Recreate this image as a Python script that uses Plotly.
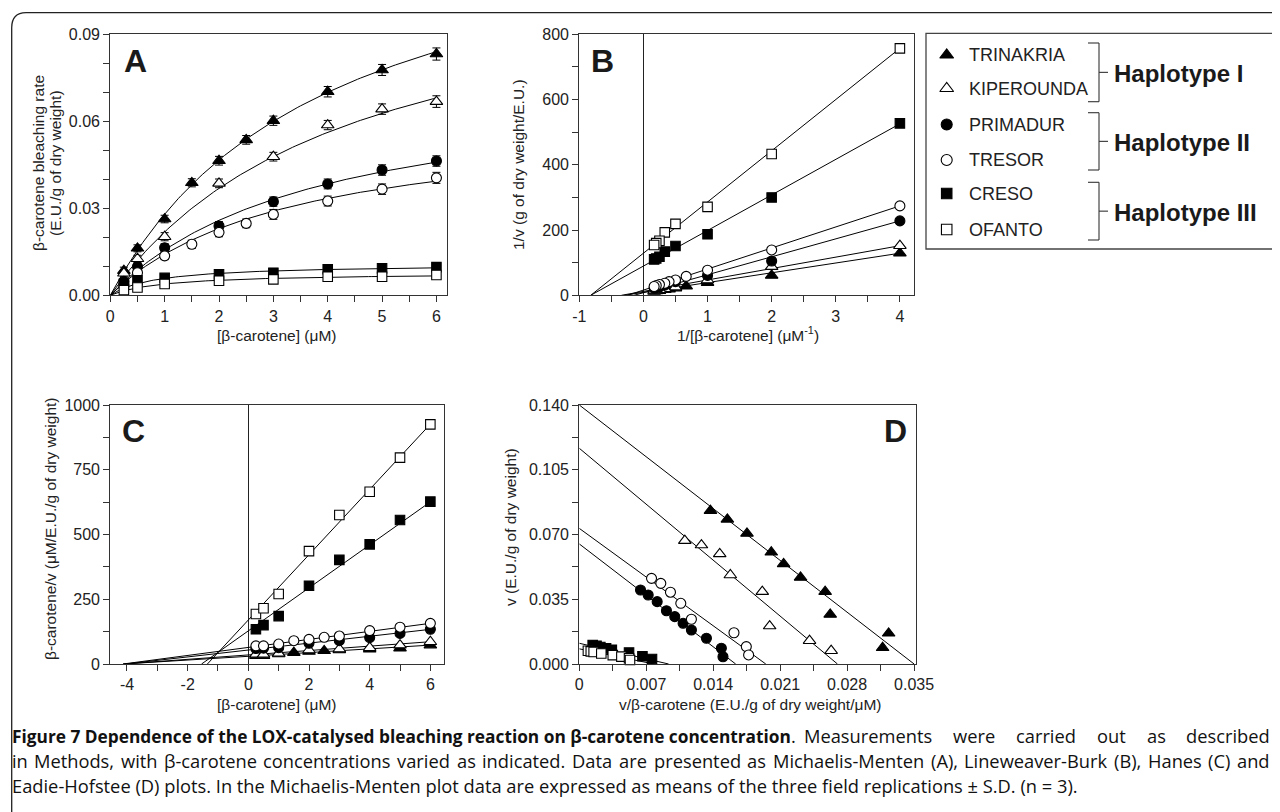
import numpy as np
import plotly.graph_objects as go

# The page body has an 8px default margin; draw the figure so that the
# reference's pixel positions land where they should on screen.
OFF = 8
FW, FH = 1280 - OFF, 812 - OFF
def X(px): return (px - OFF) / FW
def Y(py): return 1 - (py - OFF) / FH

# ---------------- data ----------------
names = ["TRINAKRIA", "KIPEROUNDA", "PRIMADUR", "TRESOR", "CRESO", "OFANTO"]
haplotypes = ["Haplotype I", "Haplotype II", "Haplotype III"]

# Panel A: Michaelis-Menten (substrate uM, rate E.U./g dw, S.D.)
A_S = [
    [0.25, 0.5, 1, 1.5, 2, 2.5, 3, 4, 5, 6],
    [0.25, 0.5, 1, 2, 3, 4, 5, 6],
    [0.25, 0.5, 1, 2, 3, 4, 5, 6],
    [0.25, 0.5, 1, 1.5, 2, 2.5, 3, 4, 5, 6],
    [0.25, 0.5, 1, 2, 3, 4, 5, 6],
    [0.25, 0.5, 1, 2, 3, 4, 5, 6],
]
A_v = [
    [0.0085, 0.0162, 0.0263, 0.0388, 0.0464, 0.0536, 0.0602, 0.0702, 0.0777, 0.0832],
    [0.0076, 0.0126, 0.0202, 0.0386, 0.0478, 0.0587, 0.0642, 0.0668],
    [0.0048, 0.0099, 0.0164, 0.0239, 0.0323, 0.0384, 0.0432, 0.0463],
    [0.0037, 0.0078, 0.0136, 0.0176, 0.0217, 0.0248, 0.0279, 0.0325, 0.0366, 0.0405],
    [0.0040, 0.0052, 0.0060, 0.0072, 0.0078, 0.0090, 0.0093, 0.0097],
    [0.0018, 0.0027, 0.0039, 0.0050, 0.0055, 0.0064, 0.0064, 0.0070],
]
A_sd = [
    [0.0012, 0.0012, 0.0013, 0.0014, 0.0015, 0.0015, 0.0016, 0.0018, 0.0019, 0.0021],
    [0.0010, 0.0012, 0.0014, 0.0015, 0.0015, 0.0016, 0.0018, 0.0020],
    [0.0010, 0.0012, 0.0014, 0.0015, 0.0016, 0.0017, 0.0018, 0.0018],
    [0.0010, 0.0012, 0.0013, 0.0014, 0.0015, 0.0015, 0.0017, 0.0017, 0.0018, 0.0019],
    [0.0008, 0.0008, 0.0008, 0.0008, 0.0009, 0.0009, 0.0009, 0.0009],
    [0.0008, 0.0008, 0.0008, 0.0009, 0.0010, 0.0009, 0.0009, 0.0009],
]
# fitted Michaelis-Menten parameters
A_fit_vmax = [0.140, 0.118, 0.075, 0.061, 0.0108, 0.0078]
A_fit_km = [4.0, 4.4, 3.8, 3.3, 0.85, 1.0]

# Panel B: Lineweaver-Burk
B_x = [
    [4, 2, 1, 0.667, 0.5, 0.4, 0.333, 0.25, 0.2, 0.167],
    [4, 2, 1, 0.5, 0.333, 0.25, 0.2, 0.167],
    [4, 2, 1, 0.5, 0.333, 0.25, 0.2, 0.167],
    [4, 2, 1, 0.667, 0.5, 0.4, 0.333, 0.25, 0.2, 0.167],
    [4, 2, 1, 0.5, 0.333, 0.25, 0.2, 0.167],
    [4, 2, 1, 0.5, 0.333, 0.25, 0.2, 0.167],
]
B_y = [
    [129, 61, 39, 28, 22, 19, 17, 14, 13, 12],
    [152, 88, 47, 25, 20, 17, 16, 15],
    [228, 105, 61, 42, 31, 26, 23, 22],
    [274, 139, 77, 58, 47, 42, 37, 33, 30, 27],
    [527, 300, 187, 151, 134, 118, 113, 110],
    [757, 433, 271, 219, 193, 167, 160, 154],
]
B_fit_intercept = [9, 12, 8, 16, 89.6, 129]
B_fit_slope = [30, 35, 55, 64.5, 109, 157]
B_fit_xmax = 4

# Panel C: Hanes
C_x = [
    [0.25, 0.5, 1, 1.5, 2, 2.5, 3, 4, 5, 6],
    [0.25, 0.5, 1, 2, 3, 4, 5, 6],
    [0.25, 0.5, 1, 2, 3, 4, 5, 6],
    [0.25, 0.5, 1, 1.5, 2, 2.5, 3, 4, 5, 6],
    [0.25, 0.5, 1, 2, 3, 4, 5, 6],
    [0.25, 0.5, 1, 2, 3, 4, 5, 6],
]
C_y = [
    [32, 32, 39, 44, 48, 51, 54, 57, 61, 73],
    [37, 37, 41, 54, 58, 63, 73, 86],
    [60, 61, 63, 80, 90, 102, 118, 134],
    [70, 70, 77, 90, 95, 103, 108, 129, 142, 157],
    [134, 150, 185, 302, 402, 462, 556, 627],
    [193, 215, 270, 436, 575, 665, 797, 925],
]
C_fit_intercept = [29.7, 35, 54, 64, 128, 170]
C_fit_slope = [7.2, 8.5, 13.3, 15.5, 83, 126]
C_fit_xmax = 6

# Panel D: Eadie-Hofstee
D_x = [
    [0.01371, 0.01548, 0.01753, 0.02007, 0.02136, 0.02313, 0.0257, 0.02623, 0.03234, 0.03171],
    [0.01103, 0.01277, 0.01468, 0.01579, 0.01913, 0.0199, 0.02407, 0.02633],
    [0.0064, 0.0072, 0.00814, 0.00911, 0.00998, 0.01085, 0.01172, 0.01329, 0.01485, 0.01502],
    [0.00755, 0.00852, 0.00953, 0.01061, 0.01172, 0.01617, 0.01746, 0.0177],
    [0.0014, 0.0018, 0.0022, 0.0028, 0.0034, 0.0052, 0.0066, 0.0076],
    [0.0009, 0.0012, 0.0015, 0.0023, 0.0035, 0.0044, 0.0052, 0.0053],
]
D_y = [
    [0.0829, 0.0782, 0.0706, 0.0604, 0.0541, 0.0468, 0.0391, 0.0268, 0.0166, 0.0088],
    [0.0667, 0.0643, 0.0595, 0.0481, 0.0391, 0.0205, 0.0126, 0.0072],
    [0.040, 0.0373, 0.0337, 0.0288, 0.0256, 0.022, 0.0184, 0.0139, 0.0085, 0.0039],
    [0.0463, 0.0436, 0.0388, 0.0328, 0.0242, 0.0169, 0.0094, 0.0049],
    [0.0103, 0.0098, 0.0092, 0.0085, 0.0077, 0.0062, 0.0042, 0.0027],
    [0.0072, 0.0068, 0.0065, 0.0057, 0.0048, 0.0040, 0.0031, 0.0022],
]
D_fit_intercept = [0.140, 0.1166, 0.0649, 0.0733, 0.0112, 0.0082]
D_fit_slope = [-4.0, -4.32, -3.97, -3.76, -1.2, -1.05]

A_xticks = [0, 1, 2, 3, 4, 5, 6]
A_yticks = [0.00, 0.03, 0.06, 0.09]
B_xticks = [-1, 0, 1, 2, 3, 4]
B_yticks = [0, 200, 400, 600, 800]
C_xticks = [-4, -2, 0, 2, 4, 6]
C_yticks = [0, 250, 500, 750, 1000]
D_xticks = [0, 0.007, 0.014, 0.021, 0.028, 0.035]
D_yticks = [0.000, 0.035, 0.070, 0.105, 0.140]

caption_bold = "Figure 7 Dependence of the LOX-catalysed bleaching reaction on β-carotene concentration"
caption_line1_rest = ". Measurements were carried out as described"
caption_line2 = ("in Methods, with β-carotene concentrations varied as indicated. Data are presented as "
                 "Michaelis-Menten (A), Lineweaver-Burk (B), Hanes (C) and")
caption_line3 = ("Eadie-Hofstee (D) plots. In the Michaelis-Menten plot data are expressed as means of the "
                 "three field replications ± S.D. (n = 3).")

# ---------------- styles ----------------
symbols = ["triangle-up", "triangle-up", "circle", "circle", "square", "square"]
fills = ["black", "white", "black", "white", "black", "white"]
msizes = [11, 11, 10, 10, 9.5, 9.5]
FONT = "Liberation Sans, Arial, sans-serif"
INK = "#222222"
AXC = "#333333"

fig = go.Figure()

def add_line(xs, ys, ax):
    fig.add_trace(go.Scatter(x=xs, y=ys, mode="lines", xaxis=ax[0], yaxis=ax[1],
                             line=dict(color="black", width=1), showlegend=False,
                             hoverinfo="skip", cliponaxis=True))

def add_pts(xs, ys, i, ax, err=None):
    kw = {}
    if err is not None:
        kw["error_y"] = dict(type="data", array=err, visible=True, color="black",
                             thickness=1, width=4)
    fig.add_trace(go.Scatter(x=xs, y=ys, mode="markers", xaxis=ax[0], yaxis=ax[1],
                             name=names[i], showlegend=False, cliponaxis=False,
                             marker=dict(symbol=symbols[i], size=msizes[i], color=fills[i],
                                         line=dict(color="black", width=1.1)), **kw))

# Panel A
for i in range(6):
    s = np.linspace(0, 6, 121)
    add_line(s, A_fit_vmax[i] * s / (A_fit_km[i] + s), ("x", "y"))
for i in range(6):
    add_pts(A_S[i], A_v[i], i, ("x", "y"), A_sd[i])

# Panel B
for i in range(6):
    x0 = -B_fit_intercept[i] / B_fit_slope[i]
    xs = [x0, B_fit_xmax]
    add_line(xs, [B_fit_intercept[i] + B_fit_slope[i] * x for x in xs], ("x2", "y2"))
for i in range(6):
    add_pts(B_x[i], B_y[i], i, ("x2", "y2"))

# Panel C
for i in range(6):
    x0 = -C_fit_intercept[i] / C_fit_slope[i]
    xs = [x0, C_fit_xmax]
    add_line(xs, [C_fit_intercept[i] + C_fit_slope[i] * x for x in xs], ("x3", "y3"))
for i in range(6):
    add_pts(C_x[i], C_y[i], i, ("x3", "y3"))

# Panel D
for i in range(6):
    x1 = -D_fit_intercept[i] / D_fit_slope[i]
    xs = [0, x1]
    add_line(xs, [D_fit_intercept[i] + D_fit_slope[i] * x for x in xs], ("x4", "y4"))
for i in range(6):
    add_pts(D_x[i], D_y[i], i, ("x4", "y4"))

# Legend key markers on a pixel overlay axis
leg_rows = [55, 88.5, 124.5, 160, 193.5, 229.5]
for i in range(6):
    fig.add_trace(go.Scatter(x=[946.7], y=[leg_rows[i]], mode="markers", xaxis="x5", yaxis="y5",
                             showlegend=False, hoverinfo="skip",
                             marker=dict(symbol=symbols[i], size=msizes[i] + 1, color=fills[i],
                                         line=dict(color="black", width=1.1))))

def axis(domain, rng, tickvals, ticktext, minor_dtick, zeroline=False, anchor=None):
    d = dict(domain=domain, range=rng, showline=True, mirror=True, linecolor=AXC, linewidth=1.2,
             ticks="outside", ticklen=6, tickwidth=1.1, tickcolor=AXC, showgrid=False,
             zeroline=zeroline, zerolinecolor="#222", zerolinewidth=1.1,
             tickmode="array", tickvals=tickvals, ticktext=ticktext, automargin=False,
             tickfont=dict(family=FONT, size=16, color=INK), fixedrange=True,
             minor=dict(dtick=minor_dtick, tick0=0, ticks="outside", ticklen=6, tickwidth=1.1,
                        tickcolor=AXC, showgrid=False))
    if anchor:
        d["anchor"] = anchor
    return d

ydomAB = [Y(295.3), Y(34.3)]
ydomCD = [Y(664), Y(405)]

fig.update_layout(
    width=FW, height=FH, margin=dict(l=0, r=0, t=0, b=0, pad=0, autoexpand=False),
    paper_bgcolor="white", plot_bgcolor="rgba(0,0,0,0)", showlegend=False,
    xaxis=axis([X(110.3), X(447.3)], [0, 6.2], A_xticks, [str(v) for v in A_xticks], 0.5, anchor="y"),
    yaxis=axis(ydomAB, [0, 0.09], A_yticks, ["%.2f" % v for v in A_yticks], 0.01, anchor="x"),
    xaxis2=axis([X(579.3), X(914)], [-1, 4.22], B_xticks, [str(v) for v in B_xticks], 0.5,
                zeroline=True, anchor="y2"),
    yaxis2=axis(ydomAB, [0, 800], B_yticks, [str(v) for v in B_yticks], 100, anchor="x2"),
    xaxis3=axis([X(110.3), X(444)], [-4.55, 6.45], C_xticks, [str(v) for v in C_xticks], 1,
                zeroline=True, anchor="y3"),
    yaxis3=axis(ydomCD, [0, 1000], C_yticks, [str(v) for v in C_yticks], 125, anchor="x3"),
    xaxis4=axis([X(579.3), X(916)], [0, 0.0352], D_xticks,
                ["0"] + ["%.3f" % v for v in D_xticks[1:]], 0.0035, anchor="y4"),
    yaxis4=axis(ydomCD, [0, 0.14], D_yticks, ["%.3f" % v for v in D_yticks], 0.0175, anchor="x4"),
    xaxis5=dict(domain=[0, 1], range=[OFF, OFF + FW], visible=False, fixedrange=True, anchor="y5"),
    yaxis5=dict(domain=[0, 1], range=[OFF + FH, OFF], visible=False, fixedrange=True, anchor="x5"),
)

ann = []
def text(px, py, t, size, xanchor="center", angle=0, bold=False, family=FONT, color=INK):
    ann.append(dict(x=X(px), y=Y(py), xref="paper", yref="paper", text=("<b>%s</b>" % t) if bold else t,
                    showarrow=False, xanchor=xanchor, yanchor="middle", textangle=angle,
                    font=dict(family=family, size=size, color=color)))

# panel letters
for lab, (px, py) in zip("ABCD", [(135, 61), (602.5, 61), (133.5, 431), (895, 430.5)]):
    text(px, py, lab, 32, bold=True, color="#1a1a1a")

# axis titles
TS = 15.5
text(38, 163, "β-carotene bleaching rate", TS, angle=-90)
text(55, 163, "(E.U./g of dry weight)", TS, angle=-90)
text(276, 335, "[β-carotene] (μM)", TS)
text(518, 165, "1/v (g of dry weight/E.U.)", TS, angle=-90)
text(748, 334, "1/[β-carotene] (μM<sup>-1</sup>)", TS)
text(50, 529, "β-carotene/v (μM/E.U./g of dry weight)", TS, angle=-90)
text(276, 704, "[β-carotene] (μM)", TS)
text(510, 527, "v (E.U./g of dry weight)", TS, angle=-90)
text(750, 704, "v/β-carotene (E.U./g of dry weight/μM)", TS)

# legend
for i in range(6):
    text(966.7, leg_rows[i], names[i], 18, xanchor="left")
brackets = [(43, 101.7), (112.7, 170), (182.3, 240)]
shapes = []
def seg(x0, y0, x1, y1, w=1.1, color="#333"):
    shapes.append(dict(type="line", xref="paper", yref="paper", x0=X(x0), y0=Y(y0), x1=X(x1), y1=Y(y1),
                       line=dict(color=color, width=w)))
for (t, b), hl in zip(brackets, haplotypes):
    m = (t + b) / 2
    seg(1088, t, 1099, t)
    seg(1099, t, 1099, b)
    seg(1088, b, 1099, b)
    seg(1099, m, 1108, m)
    text(1112, m + 1.5, hl, 24, xanchor="left", bold=True, color="#1a1a1a")

shapes.append(dict(type="rect", xref="paper", yref="paper", x0=X(926), y0=Y(249), x1=X(1278.5), y1=Y(33.3),
                   line=dict(color="#444", width=1.3)))
# figure frame (rounded top-left corner)
shapes.append(dict(type="path", xref="paper", yref="paper",
                   path="M %f,%f L %f,%f Q %f,%f %f,%f L %f,%f" % (
                       X(1285), Y(12.7), X(26), Y(12.7), X(11.7), Y(12.7), X(11.7), Y(27.7),
                       X(11.7), Y(812)),
                   line=dict(color="#222", width=1.3)))

# caption (lines 1-2 justified to the full width, as in the reference)
CF = "Open Sans, Noto Sans, sans-serif"
CS = 18.3
BS = 17.3
EM = {' ': .26, '.': .266, ',': .245, '(': .297, ')': .297, '-': .322, '=': .572, '±': .572, 'β': .62,
      'a': .556, 'b': .613, 'c': .476, 'd': .613, 'e': .561, 'f': .339, 'g': .548, 'h': .614, 'i': .253,
      'j': .253, 'k': .525, 'l': .253, 'm': .93, 'n': .614, 'o': .604, 'p': .613, 'q': .613, 'r': .408,
      's': .477, 't': .353, 'u': .614, 'v': .501, 'w': .778, 'x': .524, 'y': .502, 'z': .477,
      'A': .633, 'B': .648, 'C': .631, 'D': .729, 'E': .556, 'F': .528, 'H': .738, 'I': .279,
      'L': .531, 'M': .903, 'O': .781, 'S': .539, 'X': .586}
def em(s):
    return sum(EM.get(c, .572) for c in s)

def cap_word(px, py, t, size=CS):
    ann.append(dict(x=X(px), y=Y(py), xref="paper", yref="paper", xanchor="left", yanchor="middle",
                    showarrow=False, font=dict(family=CF, size=size, color="#111"), text=t))

def justify(items, x0, x1, py):
    total = sum(w for _, w in items)
    gap = (x1 - x0 - total) / (len(items) - 1)
    x = x0
    for t, w in items:
        cap_word(x, py, t)
        x += w + gap

LINE_Y = [735, 760, 785]
bold_w = 755.0 * BS / 16.8          # rendered width of the bold run (755px at 16.8px)
cap_word(10, LINE_Y[0], "<b>%s</b>." % caption_bold, size=CS)
ann[-1]["text"] = "<b><span style='font-size:%.1fpx'>%s</span></b>." % (BS, caption_bold)
rest_x0 = 10 + bold_w + em(".") * CS + 2
justify([(w, em(w) * CS) for w in caption_line1_rest[2:].split(" ")], rest_x0 + em(" ") * CS * 1.6,
        1268, LINE_Y[0])
justify([(w, em(w) * CS) for w in caption_line2.split(" ")], 10, 1268, LINE_Y[1])
cap_word(10, LINE_Y[2], caption_line3)

fig.update_layout(annotations=ann, shapes=shapes)
fig.write_html("out.html")
